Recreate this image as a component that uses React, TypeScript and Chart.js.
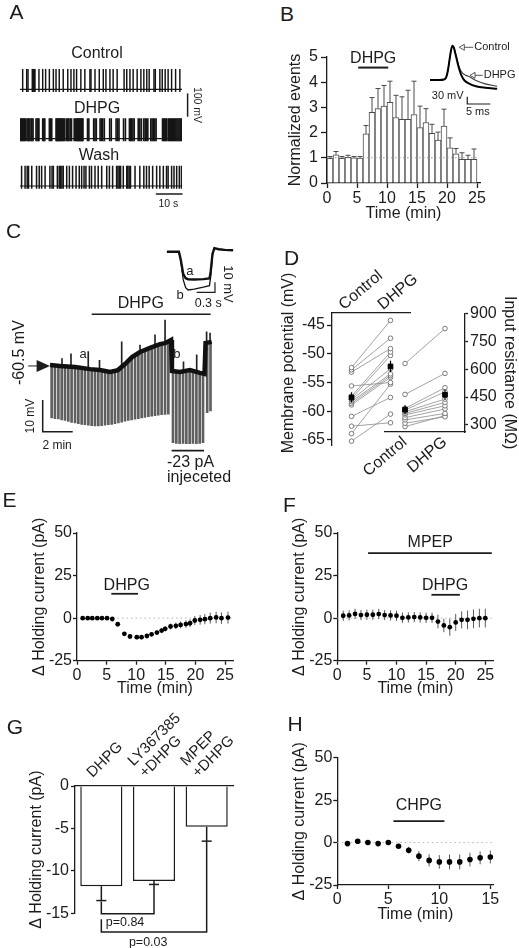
import React, { useEffect, useRef } from 'react';
import { Chart, registerables } from 'chart.js';

Chart.register(...registerables);

const FONT = "'Liberation Sans', Arial, Helvetica, sans-serif";
const INK = '#1c1c1c';

/* ======================= DATA ======================= */
// Panel A – spontaneous firing, spike times (s)
const aDurationS = 60.7;
const aRestMv = -60;
const aPeakMv = 26;
const aAhpMv = -70;
const aControlSpikesS = [1.0, 2.5, 3.0, 4.6, 5.0, 5.4, 5.6, 7.1, 8.5, 9.6, 11.0, 12.5, 13.5, 14.7, 16.2, 17.9, 19.1, 20.2, 21.2, 22.8, 24.3, 26.2, 26.6, 28.1, 29.7, 31.2, 32.2, 33.7, 34.9, 36.4, 39.0, 40.0, 41.2, 42.4, 43.9, 45.3, 46.4, 47.5, 48.4, 50.2, 50.7, 52.4, 53.3, 54.4, 55.5, 56.8, 58.3, 59.9];
const aDhpgSpikesS = [0.3, 0.6, 0.9, 1.3, 1.6, 2.0, 2.6, 3.0, 3.3, 3.7, 4.2, 4.5, 4.9, 6.0, 6.4, 6.8, 7.1, 8.5, 8.9, 9.3, 11.0, 11.4, 11.9, 13.5, 13.8, 14.1, 14.4, 14.7, 15.0, 15.3, 15.6, 16.0, 16.4, 16.8, 17.5, 17.9, 18.3, 18.8, 19.3, 20.3, 20.8, 21.2, 21.5, 21.8, 22.1, 22.4, 22.7, 23.0, 23.3, 23.6, 25.3, 25.8, 27.6, 28.1, 28.6, 30.0, 30.5, 31.0, 31.6, 33.6, 34.2, 36.0, 36.6, 37.1, 38.8, 39.5, 41.0, 41.4, 41.8, 42.3, 42.8, 44.3, 44.9, 45.5, 46.4, 46.9, 47.4, 47.9, 49.0, 49.5, 50.0, 50.5, 51.0, 53.4, 53.8, 54.2, 54.6, 55.0, 55.6, 56.0, 56.4, 56.8, 57.2, 57.6, 58.0, 58.4, 58.8, 59.2, 59.6, 60.0, 60.4];
const aWashSpikesS = [0.6, 1.9, 2.7, 3.2, 4.4, 6.2, 7.2, 8.1, 9.4, 11.2, 12.0, 12.5, 14.0, 14.7, 15.2, 15.7, 16.2, 17.5, 18.5, 19.7, 21.0, 22.2, 23.1, 24.0, 24.7, 26.0, 26.8, 28.1, 29.3, 30.6, 32.5, 33.5, 34.7, 36.2, 36.7, 37.2, 37.7, 38.7, 40.0, 40.4, 40.9, 41.4, 43.1, 44.9, 46.4, 47.4, 48.4, 49.7, 51.2, 52.4, 53.7, 54.9, 55.5, 56.8, 57.7, 58.7, 59.7, 60.5];

// Panel B – normalized events per 1-min bin
const bMinutes = [1, 2, 3, 4, 5, 6, 7, 8, 9, 10, 11, 12, 13, 14, 15, 16, 17, 18, 19, 20, 21, 22, 23, 24, 25];
const bEvents = [0.98, 1.12, 0.98, 1.02, 1.0, 0.99, 1.95, 2.8, 2.95, 3.05, 3.2, 2.6, 2.53, 2.53, 2.72, 2.2, 2.4, 1.97, 1.7, 2.26, 1.4, 1.16, 0.94, 0.94, 0.94];
const bSem = [0.07, 0.13, 0.07, 0.08, 0.05, 0.06, 0.33, 0.59, 0.8, 0.82, 0.84, 0.88, 0.89, 1.15, 1.32, 0.85, 0.55, 0.36, 0.32, 0.67, 0.39, 0.21, 0.26, 0.16, 0.41];
const bDrug = { name: 'DHPG', startMin: 5.2, endMin: 10.2 };
// Panel B inset – averaged action potential
const bApTimeMs = [0, 2, 3, 3.5, 3.9, 4.3, 4.6, 4.9, 5.2, 5.5, 5.9, 6.3, 6.8, 7.5, 8.5, 10, 12, 14.6];
const bApControlMv = [-60, -60, -58, -50, -20, 30, 65, 81, 72, 50, 18, -12, -40, -62, -75, -86, -92, -96];
const bApDhpgMv = [-60, -60, -58, -50, -20, 30, 65, 81, 73, 53, 24, -4, -25, -38, -46, -62, -76, -86];

// Panel C – membrane potential trace (min, mV)
const cTraceMin = [0, 0.67, 1.67, 2.67, 3.33, 4.0, 4.53, 5.0, 5.47, 6.0, 6.67, 7.33, 7.67, 8.07, 8.13, 8.67, 9.33, 10.0, 10.3, 10.37, 10.78];
const cTraceMv = [-60.5, -60.8, -61.1, -61.8, -62.1, -62.7, -62.1, -60.2, -58.0, -56.4, -55.1, -53.9, -53.6, -52.6, -62.4, -62.7, -62.1, -63.0, -63.3, -53.6, -53.2];
const cPulseMin = [0.11, 0.33, 0.56, 0.78, 1.0, 1.22, 1.44, 1.67, 1.89, 2.11, 2.33, 2.56, 2.78, 3.0, 3.22, 3.44, 3.67, 3.89, 4.11, 4.33, 4.56, 4.78, 5.0, 5.22, 5.44, 5.67, 5.89, 6.11, 6.33, 6.56, 6.78, 7.0, 7.22, 7.44, 7.67, 7.89, 8.2, 8.42, 8.64, 8.87, 9.09, 9.31, 9.53, 9.76, 9.98, 10.2, 10.48, 10.7];
const cPulseTopMv = [-60.6, -60.6, -60.8, -60.8, -60.9, -61.0, -61.0, -61.1, -61.3, -61.4, -61.6, -61.8, -61.8, -62.0, -62.1, -62.2, -62.4, -62.6, -62.6, -62.4, -62.0, -61.1, -60.2, -59.2, -58.1, -57.3, -56.7, -56.2, -55.7, -55.2, -54.8, -54.5, -54.1, -53.8, -53.6, -53.1, -62.4, -62.6, -62.7, -62.5, -62.3, -62.1, -62.4, -62.7, -63.0, -63.2, -53.5, -53.3];
const cPulseBottomMv = [-77.2, -77.4, -77.5, -77.8, -78.0, -78.3, -78.6, -78.8, -79.0, -79.2, -79.3, -79.5, -79.6, -79.7, -79.7, -79.6, -79.5, -79.3, -79.2, -79.0, -78.8, -78.5, -78.2, -78.0, -77.8, -77.6, -77.4, -77.2, -77.0, -76.8, -76.6, -76.5, -76.3, -76.2, -76.1, -76.0, -85.0, -85.2, -85.3, -85.2, -85.3, -85.3, -85.2, -85.3, -85.2, -85.0, -75.5, -75.0];
const cSpikeMin = [0.8, 1.4, 2.55, 3.3, 4.78, 6.0, 7.0, 7.67, 8.9, 9.78, 10.44, 10.67];
const cSpikeBaseMv = [-60.8, -61.0, -61.8, -62.1, -61.1, -56.4, -54.5, -53.6, -62.5, -62.6, -53.5, -53.3];
const cSpikePeakMv = [-58.5, -57.0, -56.3, -59.0, -53.2, -54.2, -51.0, -46.3, -59.5, -57.3, -50.0, -50.4];
// Panel C inset – voltage response to current step (s, mV re. rest)
const cInsetS = [0, 0.2, 0.23, 0.27, 0.31, 0.35, 0.45, 0.6, 0.7, 0.72, 0.75, 0.78, 0.85, 0.95, 1.09];
const cInsetA = [0, 0, -8, -22, -26.5, -27.5, -27.8, -27.4, -26.8, -20, -2, 3.5, 2.5, 1.8, 1.5];
const cInsetB = [0, 0, -9, -28, -36, -38.3, -37.5, -35.5, -34, -25, -3, 3.5, 2.5, 1.8, 1.5];

// Panel D – paired cells
const dConditions = ['Control', 'DHPG'];
const dMpControlMv = [-52.4, -52.8, -53.2, -55.6, -57.4, -57.8, -58.0, -58.3, -58.6, -58.9, -60.9, -62.6, -63.9, -65.2];
const dMpDhpgMv = [-44.2, -47.3, -49.1, -55.0, -49.7, -50.3, -52.6, -53.5, -53.8, -54.1, -57.6, -62.0, -55.3, -60.5];
const dMpMeanMv = [-57.6, -52.2];
const dMpSemMv = [0.9, 1.0];
const dIrControlMohm = [630, 464, 389, 380, 371, 362, 354, 339, 327, 309, 291];
const dIrDhpgMohm = [818, 577, 500, 478, 439, 421, 403, 386, 362, 344, 350];
const dIrMeanMohm = [382, 462];
const dIrSemMohm = [24, 28];

// Panel E – Δ holding current, DHPG
const eTimeMin = [0.96, 1.81, 2.58, 3.43, 4.22, 5.07, 5.96, 6.88, 8.0, 8.95, 10.1, 10.9, 11.8, 12.6, 13.5, 14.3, 14.9, 15.8, 16.7, 17.5, 18.4, 19.1, 19.9, 20.8, 21.6, 22.5, 23.5, 24.4, 25.5];
const eHoldPa = [0, 0, 0, 0, 0, 0, -0.5, -3.6, -9.2, -10.8, -11.2, -11.2, -10.5, -9.5, -8.5, -7.3, -6.3, -4.9, -4.5, -4.0, -3.5, -3.0, -1.4, -1.0, -0.6, 0, 0.4, 0, 0.3];
const eSemPa = [0.4, 0.4, 0.4, 0.4, 0.4, 0.4, 0.6, 0.8, 1.0, 1.1, 1.2, 1.2, 1.2, 1.3, 1.3, 1.4, 1.5, 1.7, 1.9, 2.0, 2.2, 2.3, 2.6, 2.8, 3.0, 3.2, 3.4, 3.4, 3.5];
const eDrug = { name: 'DHPG', startMin: 5.8, endMin: 10.3 };

// Panel F – Δ holding current, MPEP + DHPG
const fTimeMin = [1, 2, 3, 4, 5, 6, 7, 8, 9, 10, 11, 12, 13, 14, 15, 16, 17, 18, 19, 20, 21, 22, 23, 24, 25];
const fHoldPa = [1.4, 1.6, 2.5, 1.8, 2.0, 2.0, 2.4, 1.8, 1.6, 1.4, 0.2, 0.4, 0.6, 0.4, 0.2, 0.2, -2.0, -4.3, -5.3, -2.5, -1.0, -1.0, -0.4, 0, 0];
const fSemPa = [3, 3, 3, 3, 3, 3, 3, 3, 3, 3, 3, 3, 3, 3, 3, 3, 4, 4, 5, 5, 5, 5.5, 5.5, 5.5, 5.5];
const fDrugs = [{ name: 'MPEP', startMin: 5.2, endMin: 26.1 }, { name: 'DHPG', startMin: 15.9, endMin: 20.7 }];

// Panel G – summary
const gGroups = [['DHPG'], ['LY367385', '+DHPG'], ['MPEP', '+DHPG']];
const gHoldPa = [-11.8, -11.2, -4.8];
const gSemPa = [1.7, 0.4, 1.7];
const gPValues = ['p=0.84', 'p=0.03'];

// Panel H – Δ holding current, CHPG
const hTimeMin = [1, 2, 3, 4, 5, 6, 7, 8, 9, 10, 11, 12, 13, 14, 15];
const hHoldPa = [-0.6, 0.8, 0, -0.6, 0, -2.2, -4.5, -8, -10.5, -11.4, -11.4, -11.4, -10, -9, -8.5];
const hSemPa = [0.5, 0.6, 0.5, 0.5, 0.5, 1.0, 2.0, 3.0, 3.6, 4.0, 4.4, 4.4, 4.0, 3.8, 3.8];
const hDrug = { name: 'CHPG', startMin: 5.5, endMin: 10.5 };

/* ======================= HELPERS ======================= */
type Box = { L: number; T: number; W: number; H: number };
type Area = { x0: number; y0: number; x1: number; y1: number };
const LH = 19.2;

function frame(b: Box, a: Area, yPos: string, xPos: string) {
  const p: any = { left: a.x0 - b.L, right: b.L + b.W - a.x1, top: a.y0 - b.T, bottom: b.T + b.H - a.y1 };
  let yW = 0;
  let xH = 0;
  if (yPos === 'left') { yW = p.left; p.left = 0; }
  if (yPos === 'right') { yW = p.right; p.right = 0; }
  if (xPos === 'bottom') { xH = p.bottom; p.bottom = 0; }
  if (xPos === 'top') { xH = p.top; p.top = 0; }
  return { padding: p, yW, xH };
}

function fitTo(size: number) {
  return (s: any) => {
    if (s.isHorizontal()) s.height = size; else s.width = size;
    s.paddingLeft = 0; s.paddingRight = 0; s.paddingTop = 0; s.paddingBottom = 0;
  };
}

function base(padding: any) {
  return {
    responsive: false,
    maintainAspectRatio: false,
    animation: false,
    devicePixelRatio: 1,
    events: [],
    layout: { padding },
    plugins: { legend: { display: false }, tooltip: { enabled: false } },
  };
}

function numAxis(o: any) {
  return {
    type: 'linear',
    position: o.position,
    min: o.min,
    max: o.max,
    offset: false,
    afterFit: fitTo(o.size),
    border: { display: true, color: INK, width: 1.3 },
    grid: { display: true, drawOnChartArea: false, drawTicks: true, tickLength: o.tickLength ?? 4, tickColor: INK, tickWidth: 1.3, offset: false },
    ticks: {
      stepSize: o.step, includeBounds: false, autoSkip: false, maxRotation: 0, minRotation: 0,
      padding: o.tickPad ?? 2, color: INK, font: { family: FONT, size: o.fontSize ?? 16 },
      callback: (v: number) => String(v),
    },
    title: o.title
      ? { display: true, text: o.title, color: INK, font: { family: FONT, size: 16, lineHeight: 1.2 }, padding: o.titlePad }
      : { display: false },
  };
}

function catAxis(o: any) {
  return {
    type: 'category',
    position: o.position,
    offset: true,
    afterFit: fitTo(o.size),
    border: { display: true, color: INK, width: 1.3 },
    grid: { display: false, drawTicks: false, offset: true },
    ticks: { autoSkip: false, maxRotation: o.rot, minRotation: o.rot, padding: o.pad ?? 4, color: INK, font: { family: FONT, size: o.fontSize ?? 16, lineHeight: o.lineHeight ?? 1.1 } },
  };
}

function hiddenAxis(min: number, max: number) {
  return { type: 'linear', display: false, min, max, offset: false };
}

function overlay(id: string, draw: (c: any, ctx: CanvasRenderingContext2D) => void, before = false) {
  const hook = (c: any) => { const ctx = c.ctx; ctx.save(); draw(c, ctx); ctx.restore(); };
  return before ? { id, beforeDatasetsDraw: hook } : { id, afterDatasetsDraw: hook };
}

function path(ctx: CanvasRenderingContext2D, pts: number[][], width = 1.3, color = INK, dash: number[] = []) {
  ctx.save();
  ctx.beginPath();
  ctx.setLineDash(dash);
  ctx.lineWidth = width;
  ctx.strokeStyle = color;
  pts.forEach(([x, y], i) => (i ? ctx.lineTo(x, y) : ctx.moveTo(x, y)));
  ctx.stroke();
  ctx.restore();
}

function text(ctx: CanvasRenderingContext2D, s: string, x: number, y: number, size = 16, align: CanvasTextAlign = 'center', rot = 0, color = INK) {
  ctx.save();
  ctx.translate(x, y);
  if (rot) ctx.rotate(rot);
  ctx.font = `${size}px ${FONT}`;
  ctx.fillStyle = color;
  ctx.textAlign = align;
  ctx.textBaseline = 'middle';
  ctx.fillText(s, 0, 0);
  ctx.restore();
}

function sx(c: any) { return (v: number) => c.scales.x.getPixelForValue(v); }
function sy(c: any) { return (v: number) => c.scales.y.getPixelForValue(v); }

/* ======================= PANEL A ======================= */
const A1: Box = { L: 10, T: 55, W: 210, H: 45 };
const A2: Box = { L: 10, T: 88, W: 210, H: 60 };
const A3: Box = { L: 10, T: 150, W: 210, H: 62 };
const A1a: Area = { x0: 20, x1: 182, y0: 66, y1: 93.96 };
const A2a: Area = { x0: 20, x1: 182, y0: 115.4, y1: 143.36 };
const A3a: Area = { x0: 20, x1: 182, y0: 162.7, y1: 190.66 };

function makeTrace(box: Box, area: Area, spikes: number[], thick: number, extra?: (c: any, ctx: CanvasRenderingContext2D) => void) {
  return () => {
    const f = frame(box, area, 'none', 'none');
    return {
      type: 'bar',
      data: {
        datasets: [
          { type: 'line', data: [{ x: 0, y: aRestMv }, { x: aDurationS, y: aRestMv }], borderColor: INK, borderWidth: 1.2, pointRadius: 0, order: 1 },
          { type: 'bar', data: spikes.map((t) => ({ x: t, y: [aAhpMv, aPeakMv] })), backgroundColor: '#151515', barThickness: thick, grouped: false, order: 0 },
        ],
      },
      options: { ...base(f.padding), scales: { x: hiddenAxis(0, aDurationS), y: hiddenAxis(-80, 40) } },
      plugins: extra ? [overlay('aExtra', extra)] : [],
    };
  };
}

const makeA1 = makeTrace(A1, A1a, aControlSpikesS, 0.8);
const makeA2 = makeTrace(A2, A2a, aDhpgSpikesS, 0.95, (c, ctx) => {
  const X = sx(c); const Y = sy(c);
  path(ctx, [[X(62.8), Y(34.5)], [X(62.8), Y(134.5)]], 1.5);
  text(ctx, '100 mV', X(66.3), Y(84.5), 10.5, 'center', Math.PI / 2);
});
const makeA3 = makeTrace(A3, A3a, aWashSpikesS, 0.85, (c, ctx) => {
  const X = sx(c); const Y = sy(c);
  path(ctx, [[X(50.9), Y(-94.3)], [X(60.9), Y(-94.3)]], 1.5);
  text(ctx, '10 s', X(55.6), Y(-137), 10.5);
});

/* ======================= PANEL B ======================= */
const Bb: Box = { L: 268, T: 40, W: 251, H: 186 };
const Ba: Area = { x0: 327, y0: 57, x1: 480, y1: 183 };

function makeB() {
  const f = frame(Bb, Ba, 'left', 'bottom');
  return {
    type: 'bar',
    data: {
      datasets: [{
        data: bMinutes.map((m, i) => ({ x: m - 0.5, y: bEvents[i] })),
        backgroundColor: '#ffffff', borderColor: '#4a4a4a', borderWidth: 1, barPercentage: 1, categoryPercentage: 1,
      }],
    },
    options: {
      ...base(f.padding),
      scales: {
        x: numAxis({ position: 'bottom', min: 0, max: 25.5, step: 5, size: f.xH, tickLength: 5, tickPad: 1, title: 'Time (min)', titlePad: { top: 0, bottom: Bb.T + Bb.H - 214 - LH / 2 } }),
        y: numAxis({ position: 'left', min: 0, max: 5, step: 1, size: f.yW, tickLength: 6, tickPad: 3, title: 'Normalized events', titlePad: { top: 296 - Bb.L - LH / 2, bottom: 0 } }),
      },
    },
    plugins: [overlay('bAnn', (c, ctx) => {
      const X = sx(c); const Y = sy(c);
      bMinutes.forEach((m, i) => {
        const x = X(m - 0.5);
        const top = Y(bEvents[i] + bSem[i]);
        path(ctx, [[x, Y(bEvents[i])], [x, top]], 1, '#4a4a4a');
        path(ctx, [[x - 2.5, top], [x + 2.5, top]], 1, '#4a4a4a');
      });
      path(ctx, [[X(0), Y(1)], [X(25), Y(1)]], 1, '#9a9a9a', [1.5, 2.5]);
      path(ctx, [[X(bDrug.startMin), Y(4.58)], [X(bDrug.endMin), Y(4.58)]], 2);
      text(ctx, bDrug.name, X(7.7), Y(4.93), 16);
    })],
  };
}

const BIb: Box = { L: 425, T: 35, W: 94, H: 85 };
const BIa: Area = { x0: 430, x1: 503.6, y0: 43.55, y1: 92.15 };
function makeBInset() {
  const f = frame(BIb, BIa, 'none', 'none');
  return {
    type: 'line',
    data: {
      datasets: [
        { data: bApTimeMs.map((t, i) => ({ x: t, y: bApDhpgMv[i] })), borderColor: '#3a3a3a', borderWidth: 1.1, pointRadius: 0, cubicInterpolationMode: 'monotone', order: 1 },
        { data: bApTimeMs.map((t, i) => ({ x: t, y: bApControlMv[i] })), borderColor: '#000', borderWidth: 2, pointRadius: 0, cubicInterpolationMode: 'monotone', order: 0 },
      ],
    },
    options: { ...base(f.padding), scales: { x: hiddenAxis(0, 16), y: hiddenAxis(-110, 90) } },
    plugins: [overlay('biAnn', (c, ctx) => {
      const X = sx(c); const Y = sy(c);
      path(ctx, [[X(8.1), Y(-128.8)], [X(8.1), Y(-158.8)], [X(13.1), Y(-158.8)]], 1.2);
      text(ctx, '30 mV', X(7.3), Y(-126), 11, 'right');
      text(ctx, '5 ms', X(10.4), Y(-190), 11);
      const arrow = (tx: number, ty: number, endT: number, label: string) => {
        const x = X(tx); const y = Y(ty);
        ctx.save();
        ctx.beginPath(); ctx.moveTo(x, y); ctx.lineTo(x + 5, y - 3); ctx.lineTo(x + 5, y + 3); ctx.closePath();
        ctx.fillStyle = '#fff'; ctx.fill(); ctx.strokeStyle = '#444'; ctx.lineWidth = 0.9; ctx.stroke();
        ctx.restore();
        path(ctx, [[x + 5, y], [X(endT), y]], 0.9, '#444');
        text(ctx, label, X(endT) + 1, y, 11, 'left');
      };
      arrow(6.37, 74.6, 9.4, 'Control');
      arrow(8.7, -40.7, 11.46, 'DHPG');
    })],
  };
}

/* ======================= PANEL C ======================= */
const Cb: Box = { L: 0, T: 290, W: 260, H: 200 };
const Ca: Area = { x0: 50, x1: 212, y0: 300, y1: 452.2 };
function makeC() {
  const f = frame(Cb, Ca, 'none', 'none');
  return {
    type: 'bar',
    data: {
      datasets: [
        { type: 'line', data: cTraceMin.map((t, i) => ({ x: t, y: cTraceMv[i] })), borderColor: '#111', borderWidth: 4.5, pointRadius: 0, order: 0 },
        { type: 'bar', data: cSpikeMin.map((t, i) => ({ x: t, y: [cSpikeBaseMv[i], cSpikePeakMv[i]] })), backgroundColor: '#222', barThickness: 1, grouped: false, order: 1 },
        { type: 'bar', data: cPulseMin.map((t, i) => ({ x: t, y: [cPulseBottomMv[i], cPulseTopMv[i]] })), backgroundColor: '#5f5f5f', barThickness: 2, grouped: false, order: 2 },
      ],
    },
    options: { ...base(f.padding), scales: { x: hiddenAxis(0, 10.8), y: hiddenAxis(-88, -40) } },
    plugins: [overlay('cAnn', (c, ctx) => {
      const X = sx(c); const Y = sy(c);
      path(ctx, [[X(2.78), Y(-44.5)], [X(10.71), Y(-44.5)]], 1.6);
      text(ctx, 'DHPG', X(6.05), Y(-41.0), 16);
      ctx.save();
      ctx.beginPath(); ctx.moveTo(X(-0.89), Y(-58.9)); ctx.lineTo(X(0), Y(-60.8)); ctx.lineTo(X(-0.89), Y(-62.7)); ctx.closePath();
      ctx.fillStyle = INK; ctx.fill();
      ctx.restore();
      path(ctx, [[X(-1.45), Y(-60.8)], [X(-0.85), Y(-60.8)]], 1);
      text(ctx, '-60.5 mV', X(-2.0), Y(-56.6), 16, 'center', -Math.PI / 2);
      path(ctx, [[X(-0.487), Y(-71.54)], [X(-0.487), Y(-81.54)], [X(1.513), Y(-81.54)]], 1.5);
      text(ctx, '10 mV', X(-1.27), Y(-76.6), 12, 'center', -Math.PI / 2);
      text(ctx, '2 min', X(0.47), Y(-85.8), 12);
      text(ctx, 'a', X(2.2), Y(-57.3), 13);
      text(ctx, 'b', X(8.45), Y(-57.3), 13);
      path(ctx, [[X(8.11), Y(-87.5)], [X(10.27), Y(-87.5)]], 1.6);
      text(ctx, '-23 pA', X(7.8), Y(-91.4), 16, 'left');
      text(ctx, 'injeceted', X(7.8), Y(-96.1), 16, 'left');
    })],
  };
}

const CIb: Box = { L: 160, T: 235, W: 90, H: 75 };
const CIa: Area = { x0: 166.7, x1: 233.3, y0: 241.7, y1: 296.7 };
function makeCInset() {
  const f = frame(CIb, CIa, 'none', 'none');
  return {
    type: 'line',
    data: {
      datasets: [
        { data: cInsetS.map((t, i) => ({ x: t, y: cInsetA[i] })), borderColor: '#111', borderWidth: 2.4, pointRadius: 0, order: 0 },
        { data: cInsetS.map((t, i) => ({ x: t, y: cInsetB[i] })), borderColor: '#111', borderWidth: 1.3, pointRadius: 0, order: 1 },
      ],
    },
    options: { ...base(f.padding), scales: { x: hiddenAxis(0, 1.09), y: hiddenAxis(-45, 10) } },
    plugins: [overlay('ciAnn', (c, ctx) => {
      const X = sx(c); const Y = sy(c);
      text(ctx, 'a', X(0.38), Y(-20), 13);
      text(ctx, 'b', X(0.22), Y(-43.3), 13);
      path(ctx, [[X(0.79), Y(-30.6)], [X(0.79), Y(-40.6)], [X(0.49), Y(-40.6)]], 1.2);
      text(ctx, '10 mV', X(1.0), Y(-32.3), 13, 'center', Math.PI / 2);
      text(ctx, '0.3 s', X(0.68), Y(-51.6), 12.5);
    })],
  };
}

/* ======================= PANEL D ======================= */
const DLb: Box = { L: 262, T: 255, W: 156, H: 215 };
const DLa: Area = { x0: 332, y0: 313, x1: 410, y1: 445 };
const DRb: Box = { L: 340, T: 280, W: 179, H: 210 };
const DRa: Area = { x0: 385, y0: 313.3, x1: 465, y1: 432 };

function pairedSets(ctrl: number[], drug: number[], mean: number[]) {
  const cells = ctrl.map((v, i) => ({
    data: [v, drug[i]], borderColor: '#8c8c8c', borderWidth: 0.8, pointRadius: 2.3,
    pointBackgroundColor: '#ffffff', pointBorderColor: '#6e6e6e', pointBorderWidth: 0.9, clip: false, order: 1,
  }));
  return [...cells, { data: mean, showLine: false, pointStyle: 'rect', pointRadius: 3.3, pointBackgroundColor: '#000', pointBorderColor: '#000', clip: false, order: -1 }];
}

function semPlugin(mean: number[], sem: number[]) {
  return overlay('dSem', (c, ctx) => {
    const X = sx(c); const Y = sy(c);
    mean.forEach((m, i) => path(ctx, [[X(i), Y(m - sem[i])], [X(i), Y(m + sem[i])]], 1.2, '#000'));
  });
}

function makeDL() {
  const f = frame(DLb, DLa, 'left', 'top');
  return {
    type: 'line',
    data: { labels: dConditions, datasets: pairedSets(dMpControlMv, dMpDhpgMv, dMpMeanMv) },
    options: {
      ...base(f.padding),
      scales: {
        x: catAxis({ position: 'top', size: f.xH, rot: 40, pad: 0, lineHeight: 1.0 }),
        y: numAxis({ position: 'left', min: -65.87, max: -42.91, step: 5, size: f.yW, tickLength: 5, tickPad: 2 }),
      },
    },
    plugins: [
      semPlugin(dMpMeanMv, dMpSemMv),
      overlay('dlTitle', (c, ctx) => {
        const Y = sy(c);
        text(ctx, 'Membrane potential (mV)', 289 - DLb.L, Y(-51.6), 16, 'center', -Math.PI / 2);
      }),
    ],
  };
}

function makeDR() {
  const f = frame(DRb, DRa, 'right', 'bottom');
  return {
    type: 'line',
    data: { labels: dConditions, datasets: pairedSets(dIrControlMohm, dIrDhpgMohm, dIrMeanMohm) },
    options: {
      ...base(f.padding),
      scales: {
        x: catAxis({ position: 'bottom', size: f.xH, rot: 40, pad: 2, lineHeight: 1.0 }),
        y: numAxis({ position: 'right', min: 262, max: 900, step: 150, size: f.yW, tickLength: 3, tickPad: 2, title: 'Input resistance (MΩ)', titlePad: { top: Math.max(0, DRb.L + DRb.W - 510 - LH / 2), bottom: 0 } }),
      },
    },
    plugins: [semPlugin(dIrMeanMohm, dIrSemMohm)],
  };
}

/* ======================= PANELS E, F, H ======================= */
const Eb: Box = { L: 20, T: 495, W: 225, H: 205 };
const Ea: Area = { x0: 77, y0: 533, x1: 233, y1: 660.7 };
const Fb: Box = { L: 280, T: 495, W: 225, H: 205 };
const Fa: Area = { x0: 337.3, y0: 533, x1: 493.3, y1: 660.7 };
const Hb: Box = { L: 280, T: 720, W: 225, H: 206 };
const Ha: Area = { x0: 337.3, y0: 757.7, x1: 493.3, y1: 885 };

function makeCourse(box: Box, area: Area, xMax: number, titleX: number, titleY: number, times: number[], vals: number[], sems: number[], r: number, notes: (c: any, ctx: CanvasRenderingContext2D) => void) {
  return () => {
    const f = frame(box, area, 'left', 'bottom');
    return {
      type: 'scatter',
      data: { datasets: [{ data: times.map((t, i) => ({ x: t, y: vals[i] })), pointRadius: r, pointBackgroundColor: '#000', pointBorderWidth: 0, clip: false }] },
      options: {
        ...base(f.padding),
        scales: {
          x: numAxis({ position: 'bottom', min: 0, max: xMax, step: 5, size: f.xH, tickLength: 4, tickPad: 1, title: 'Time (min)', titlePad: { top: 0, bottom: box.T + box.H - titleY - LH / 2 } }),
          y: numAxis({ position: 'left', min: -25, max: 50, step: 25, size: f.yW, tickLength: 4, tickPad: 1, title: 'Δ Holding current (pA)', titlePad: { top: titleX - box.L - LH / 2, bottom: 0 } }),
        },
      },
      plugins: [
        overlay('courseBg', (c, ctx) => {
          const X = sx(c); const Y = sy(c);
          path(ctx, [[X(0), Y(0)], [X(xMax), Y(0)]], 1, '#b5b5b5', [1.5, 3]);
          times.forEach((t, i) => path(ctx, [[X(t), Y(vals[i] - sems[i])], [X(t), Y(vals[i] + sems[i])]], 1, '#5a5a5a'));
        }, true),
        overlay('courseNotes', notes),
      ],
    };
  };
}

const makeE = makeCourse(Eb, Ea, 26.35, 40, 689, eTimeMin, eHoldPa, eSemPa, 2.4, (c, ctx) => {
  const X = sx(c); const Y = sy(c);
  path(ctx, [[X(eDrug.startMin), Y(14.3)], [X(eDrug.endMin), Y(14.3)]], 1.8);
  text(ctx, eDrug.name, X(8.4), Y(19.4), 16);
});
const makeF = makeCourse(Fb, Fa, 26.35, 300, 689, fTimeMin, fHoldPa, fSemPa, 2.4, (c, ctx) => {
  const X = sx(c); const Y = sy(c);
  path(ctx, [[X(fDrugs[0].startMin), Y(38.2)], [X(fDrugs[0].endMin), Y(38.2)]], 1.8);
  text(ctx, fDrugs[0].name, X(15.7), Y(44.3), 16);
  path(ctx, [[X(fDrugs[1].startMin), Y(13.7)], [X(fDrugs[1].endMin), Y(13.7)]], 1.8);
  text(ctx, fDrugs[1].name, X(18.2), Y(19.4), 16);
});
const makeH = makeCourse(Hb, Ha, 15.29, 300, 915, hTimeMin, hHoldPa, hSemPa, 2.8, (c, ctx) => {
  const X = sx(c); const Y = sy(c);
  path(ctx, [[X(hDrug.startMin), Y(12.6)], [X(hDrug.endMin), Y(12.6)]], 1.8);
  text(ctx, hDrug.name, X(8.0), Y(21.9), 16);
});

/* ======================= PANEL G ======================= */
const Gb: Box = { L: 0, T: 700, W: 260, H: 248 };
const Ga: Area = { x0: 75, y0: 786, x1: 233, y1: 913.3 };
function makeG() {
  const f = frame(Gb, Ga, 'left', 'top');
  return {
    type: 'bar',
    data: {
      labels: gGroups,
      datasets: [{ data: gHoldPa, backgroundColor: '#fff', borderColor: INK, borderWidth: 1.5, barPercentage: 0.8, categoryPercentage: 1 }],
    },
    options: {
      ...base(f.padding),
      scales: {
        x: catAxis({ position: 'top', size: f.xH, rot: 45, pad: 5, fontSize: 15 }),
        y: numAxis({ position: 'left', min: -15, max: 0, step: 5, size: f.yW, tickLength: 4, tickPad: 2, title: 'Δ Holding current (pA)', titlePad: { top: 37 - Gb.L - LH / 2, bottom: 0 } }),
      },
    },
    plugins: [overlay('gAnn', (c, ctx) => {
      const X = sx(c); const Y = sy(c);
      gHoldPa.forEach((v, i) => {
        const x = X(i); const lo = Y(v - gSemPa[i]);
        path(ctx, [[x, Y(v)], [x, lo]], 1.5);
        path(ctx, [[x - 5, lo], [x + 5, lo]], 1.5);
      });
      path(ctx, [[X(0), Y(-13.6)], [X(0), Y(-15.05)], [X(1), Y(-15.05)], [X(1), Y(-11.6)]], 1.5);
      path(ctx, [[X(0), Y(-15.7)], [X(0), Y(-17.2)], [X(2), Y(-17.2)], [X(2), Y(-6.6)]], 1.5);
      text(ctx, gPValues[0], X(0.45), Y(-16.14), 12.5);
      text(ctx, gPValues[1], X(0.89), Y(-18.4), 12.5);
    })],
  };
}

/* ======================= COMPONENTS ======================= */
function ChartBox({ box, make }: { box: Box; make: () => any }) {
  const ref = useRef<HTMLCanvasElement>(null);
  useEffect(() => {
    const chart = new Chart(ref.current as HTMLCanvasElement, make());
    return () => chart.destroy();
  }, []);
  return (
    <div style={{ position: 'absolute', left: box.L, top: box.T, width: box.W, height: box.H }}>
      <canvas ref={ref} width={box.W} height={box.H} style={{ width: box.W, height: box.H, display: 'block' }} />
    </div>
  );
}

function Label({ x, y, children, size = 16 }: { x: number; y: number; children: any; size?: number }) {
  return (
    <div style={{ position: 'absolute', left: x, top: y, transform: 'translate(-50%, -50%)', fontFamily: FONT, fontSize: size, lineHeight: 1, color: INK, whiteSpace: 'nowrap' }}>
      {children}
    </div>
  );
}

export default function App() {
  return (
    <div style={{ position: 'absolute', left: 0, top: 0, width: 519, height: 948, background: '#fff', overflow: 'hidden' }}>
      <ChartBox box={A1} make={makeA1} />
      <ChartBox box={A2} make={makeA2} />
      <ChartBox box={A3} make={makeA3} />
      <ChartBox box={Bb} make={makeB} />
      <ChartBox box={BIb} make={makeBInset} />
      <ChartBox box={Cb} make={makeC} />
      <ChartBox box={CIb} make={makeCInset} />
      <ChartBox box={DLb} make={makeDL} />
      <ChartBox box={DRb} make={makeDR} />
      <ChartBox box={Eb} make={makeE} />
      <ChartBox box={Fb} make={makeF} />
      <ChartBox box={Gb} make={makeG} />
      <ChartBox box={Hb} make={makeH} />
      <Label x={97} y={53}>Control</Label>
      <Label x={97} y={108}>DHPG</Label>
      <Label x={99} y={155}>Wash</Label>
      <Label x={16.5} y={11} size={21}>A</Label>
      <Label x={287} y={13} size={21}>B</Label>
      <Label x={13.5} y={230} size={21}>C</Label>
      <Label x={291.5} y={257} size={21}>D</Label>
      <Label x={9.5} y={499} size={21}>E</Label>
      <Label x={289.5} y={504} size={21}>F</Label>
      <Label x={15} y={726} size={21}>G</Label>
      <Label x={295} y={723} size={21}>H</Label>
    </div>
  );
}
